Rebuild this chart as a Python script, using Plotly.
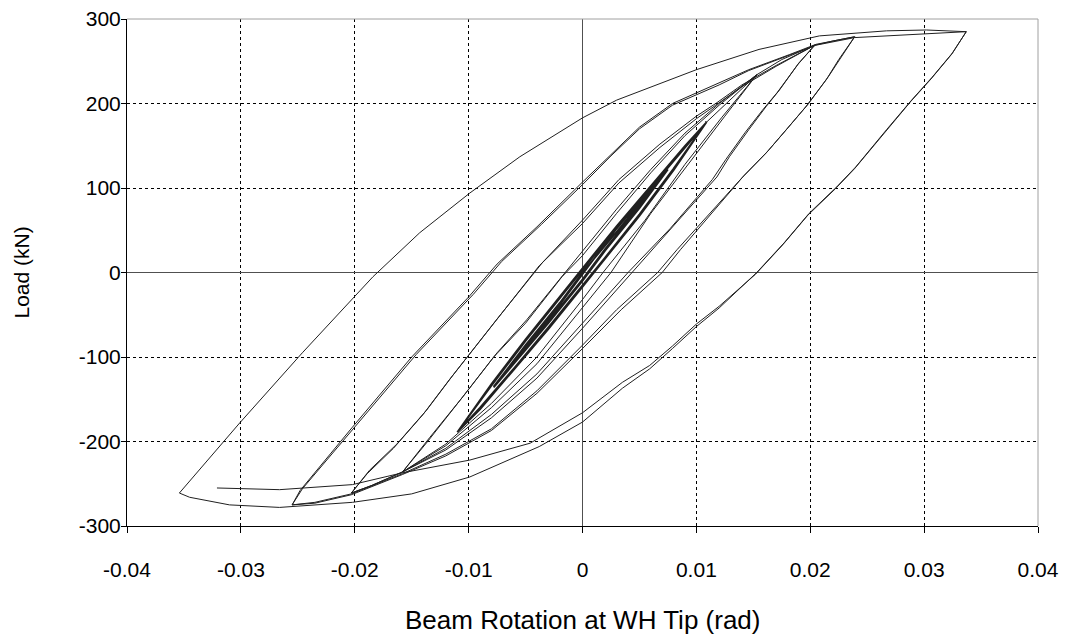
import plotly.graph_objects as go

# Beam rotation (rad) and load (kN).
# One continuous path per amplitude level, in loading order.

# small elastic cycles (the dark band in the middle)
small_rot = [0, 0.003, 0.0075,
             0.005, 0.002, 0, -0.003, -0.0078,
             -0.005, -0.002, 0, 0.003, 0.0075,
             0.005, 0.002, 0, -0.003, -0.0078,
             -0.005, -0.002, 0, 0.003, 0.006, 0.009, 0.0109,
             0.008, 0.005, 0.002, 0, -0.003, -0.006, -0.009, -0.011,
             -0.008, -0.005, -0.002, 0, 0.003, 0.006, 0.009, 0.0109,
             0.008, 0.005, 0.002, 0, -0.003, -0.006, -0.009, -0.011,
             -0.008, -0.005, -0.002, 0, 0.003, 0.006, 0.009, 0.0109]
small_load = [0, 48, 122,
              78, 28, -8, -58, -135,
              -86, -36, 0, 48, 122,
              76, 26, -10, -60, -136,
              -88, -38, -2, 52, 100, 148, 178,
              123, 69, 18, -15, -65, -113, -160, -189,
              -132, -79, -28, 5, 55, 103, 150, 178,
              121, 67, 16, -17, -67, -115, -162, -189,
              -134, -81, -30, 3, 53, 101, 149, 178]

# 0.015 rad level, two cycles
c015_rot = [0.0109, 0.013, 0.0153,
            0.0125, 0.0095, 0.006, 0.0025, 0, -0.004, -0.008, -0.012, -0.0158,
            -0.0134, -0.0105, -0.0075, -0.0049, -0.0015, 0, 0.003, 0.006, 0.009, 0.012, 0.0153,
            0.0122, 0.009, 0.0055, 0.0018, 0, -0.004, -0.008, -0.012, -0.0158,
            -0.0136, -0.0108, -0.0078, -0.005, -0.0018, 0, 0.003, 0.006, 0.009, 0.012, 0.0153, 0.0175, 0.0204]
c015_load = [178, 205, 234,
             185, 132, 70, 0, -42, -108, -160, -205, -236,
             -195, -147, -95, -56, 0, 25, 75, 122, 165, 200, 234,
             183, 128, 62, 0, -32, -100, -155, -203, -236,
             -200, -152, -100, -60, -5, 20, 70, 118, 162, 198, 234, 252, 269]

# 0.02 rad level, two cycles
c020_rot = [0.0204, 0.019, 0.0173, 0.0161, 0.0146, 0.0129, 0.0118, 0.008, 0.0044, 0, -0.004, -0.008, -0.012, -0.0158, -0.0185, -0.0203,
            -0.0187, -0.0163, -0.0137, -0.0114, -0.0075, -0.0035, 0, 0.0032, 0.0068, 0.0100, 0.0117, 0.014, 0.017, 0.0204,
            0.0189, 0.0171, 0.0158, 0.0143, 0.0126, 0.0114, 0.0077, 0.0040, 0, -0.004, -0.008, -0.012, -0.0158, -0.0185, -0.0203,
            -0.0189, -0.0166, -0.0140, -0.0117, -0.0078, -0.0038, 0, 0.0032, 0.0068, 0.010, 0.0117, 0.014, 0.017, 0.0204, 0.022, 0.0239]
c020_load = [269, 248, 216, 196, 169, 137, 113, 55, 0, -66, -125, -172, -210, -236, -252, -261,
             -234, -203, -163, -122, -55, 12, 62, 110, 152, 185, 200, 222, 245, 269,
             246, 213, 192, 166, 134, 110, 52, 0, -60, -120, -168, -208, -236, -252, -261,
             -238, -208, -168, -127, -60, 8, 58, 106, 148, 182, 198, 220, 244, 269, 274, 279]

# 0.025 rad level, two cycles, the second one running on to the largest peak
c025_rot = [0.0239, 0.0225, 0.0214, 0.0196, 0.0179, 0.0161, 0.014, 0.0112, 0.0083, 0.0066, 0.003, 0, -0.004, -0.008, -0.012, -0.0158, -0.0203, -0.0235, -0.0255,
            -0.0248, -0.0202, -0.0150, -0.0100, -0.0075, -0.0040, 0, 0.0025, 0.005, 0.0079, 0.012, 0.0146, 0.0182, 0.0205, 0.0239,
            0.0227, 0.0216, 0.0198, 0.0181, 0.0163, 0.0142, 0.0115, 0.0086, 0.0070, 0.0034, 0, -0.004, -0.008, -0.012, -0.0158, -0.0203, -0.0235, -0.0255,
            -0.0246, -0.0198, -0.0146, -0.0096, -0.0071, -0.0036, 0, 0.0025, 0.005, 0.0079, 0.012, 0.0146, 0.0182, 0.0205, 0.0239, 0.0296, 0.0337]
c025_load = [279, 252, 228, 196, 169, 141, 112, 70, 27, 0, -44, -86, -140, -185, -215, -238, -262, -272, -275,
             -258, -183, -100, -29, 10, 54, 107, 140, 172, 200, 224, 240, 258, 270, 279,
             255, 232, 199, 172, 144, 115, 73, 27, 0, -44, -90, -143, -187, -217, -239, -263, -273, -275,
             -256, -180, -97, -26, 13, 57, 104, 138, 170, 198, 222, 239, 257, 269, 278, 282, 285]

# largest level: unload, outer reload, final unload (test stops near -0.032)
big_rot = [0.0337, 0.0325, 0.0307, 0.0289, 0.0267, 0.024, 0.0223, 0.0199, 0.0177, 0.0153, 0.012, 0.010, 0.0079, 0.0059, 0.0035, 0,
           -0.0038, -0.0099, -0.015, -0.0202, -0.0266, -0.031, -0.0345, -0.0354,
           -0.0301, -0.0246, -0.0184, -0.0143, -0.0099, -0.0055, 0, 0.003, 0.010, 0.0155, 0.0208, 0.0267, 0.0302, 0.0337,
           0.0324, 0.0306, 0.0288, 0.0266, 0.0239, 0.0222, 0.0198, 0.0176, 0.0152, 0.012, 0.010, 0.0079, 0.0059, 0.0035, 0,
           -0.0046, -0.0099, -0.0158, -0.0202, -0.0266, -0.0321]
big_load = [285, 260, 231, 204, 169, 125, 101, 70, 35, 0, -42, -64, -90, -114, -137, -177,
            -206, -242, -262, -272, -278, -275, -266, -261,
            -178, -95, -5, 47, 94, 137, 183, 204, 240, 264, 280, 286, 287, 285,
            258, 229, 202, 167, 123, 99, 68, 33, -2, -40, -61, -87, -110, -130, -166,
            -202, -222, -237, -251, -257, -255]

# axis ticks
x_ticks = [-0.04, -0.03, -0.02, -0.01, 0, 0.01, 0.02, 0.03, 0.04]
x_tick_labels = ["-0.04", "-0.03", "-0.02", "-0.01", "0", "0.01", "0.02", "0.03", "0.04"]
y_ticks = [-300, -200, -100, 0, 100, 200, 300]
y_tick_labels = ["-300", "-200", "-100", "0", "100", "200", "300"]

fig = go.Figure()

paths = [(small_rot, small_load, 1.8),
         (c015_rot, c015_load, 1),
         (c020_rot, c020_load, 1),
         (c025_rot, c025_load, 1),
         (big_rot, big_load, 1)]
for rot, load, w in paths:
    fig.add_trace(go.Scatter(x=rot, y=load, mode="lines",
                             line=dict(color="#202020", width=w),
                             hoverinfo="skip", showlegend=False))

fig.update_xaxes(range=[-0.04, 0.04], tickvals=x_ticks, ticktext=x_tick_labels,
                 showgrid=True, gridcolor="black", gridwidth=1, griddash="3px,3px",
                 zeroline=True, zerolinecolor="#505050", zerolinewidth=1,
                 showline=True, linecolor="black", linewidth=1,
                 ticks="outside", ticklen=6, tickcolor="black", ticklabelstandoff=19,
                 ticklabeloverflow="allow", automargin=False, tickfont=dict(size=21))
fig.update_yaxes(range=[-300, 300], tickvals=y_ticks, ticktext=y_tick_labels,
                 showgrid=True, gridcolor="black", gridwidth=1, griddash="3px,3px",
                 zeroline=True, zerolinecolor="#505050", zerolinewidth=1,
                 showline=True, linecolor="black", linewidth=1,
                 ticks="outside", ticklen=5, tickcolor="black", ticklabelstandoff=-4,
                 ticklabeloverflow="allow", automargin=False, tickfont=dict(size=21))

# grey frame on top and right
fig.add_shape(type="line", xref="x domain", yref="y domain", x0=0, x1=1, y0=1, y1=1,
              line=dict(color="#a0a0a0", width=1), layer="above")
fig.add_shape(type="line", xref="x domain", yref="y domain", x0=1, x1=1, y0=0, y1=1,
              line=dict(color="#a0a0a0", width=1), layer="above")

fig.add_annotation(text="Beam Rotation at WH Tip (rad)", xref="paper", yref="paper",
                   x=0.5, y=0, yshift=-94, showarrow=False, yanchor="middle",
                   font=dict(size=26))
fig.add_annotation(text="Load (kN)", xref="paper", yref="paper",
                   x=0, y=0.5, xshift=-106, showarrow=False, textangle=-90,
                   xanchor="center", yanchor="middle", font=dict(size=21))

# the page body adds an 8 px offset, so margins are shifted to keep the plot area in place
fig.update_layout(width=1073, height=636,
                  margin=dict(l=119, r=43, t=11, b=118, autoexpand=False),
                  paper_bgcolor="white", plot_bgcolor="white",
                  font=dict(family="Liberation Sans, Arial, sans-serif", size=18, color="black"),
                  showlegend=False)

fig.write_html("out.html")
